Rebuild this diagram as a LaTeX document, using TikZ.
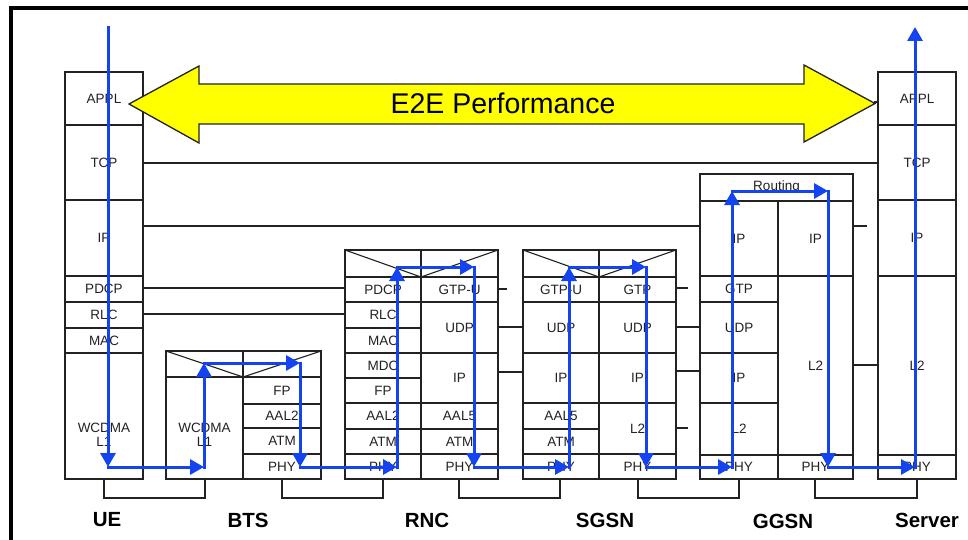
\documentclass[tikz,border=0pt]{standalone}
\usepackage{fontspec}
\setmainfont{Liberation Sans}
\usetikzlibrary{arrows.meta,calc}
\definecolor{flowblue}{HTML}{1444F0}
\definecolor{e2eyellow}{HTML}{FFFF00}
\definecolor{ink}{HTML}{222222}
\tikzset{
  cellbox/.style={draw=ink, line width=1.1pt},
  celltxt/.style={font=\fontsize{13.5}{14}\selectfont, text=ink, inner sep=0pt, align=center},
  peer/.style={draw=ink, line width=1.1pt},
  flow/.style={draw=flowblue, line width=3pt, line cap=rect, -{Triangle[length=14pt,width=15pt]}},
  nodelbl/.style={font=\fontsize{20.5}{22}\selectfont\bfseries, text=black, inner sep=0pt},
  bracket/.style={draw=ink, line width=2pt},
  frameline/.style={draw=black, line width=4pt},
  bigarrow/.style={fill=e2eyellow, draw=ink, line width=1.3pt, line join=miter},
}
\newcommand\lyr[6]{%
  \draw[cellbox] (#2,#3) rectangle (#4,#5);
  \node[celltxt] (#1) at ($(#2,#3)!.5!(#4,#5)$) {#6};
}
\newcommand\lyrbox[4]{\draw[cellbox] (#1,#2) rectangle (#3,#4);}
\begin{document}
\begin{tikzpicture}[x=1pt,y=-1pt]
\useasboundingbox (0,0) rectangle (968,540);
\fill[white] (0,0) rectangle (968,540);
% frame
\draw[frameline] (10.5,542) -- (10.5,8.5) -- (970,8.5);

% ---------- UE ----------
\lyr{ueappl}{65}{72}{143}{125}{APPL}
\lyr{uetcp}{65}{125}{143}{200}{TCP}
\lyr{ueip}{65}{200}{143}{276}{IP}
\lyr{uepdcp}{65}{276}{143}{302}{PDCP}
\lyr{uerlc}{65}{302}{143}{328}{RLC}
\lyr{uemac}{65}{328}{143}{353}{MAC}
\lyrbox{65}{353}{143}{479}
\node[celltxt] (uel1) at (104,435) {WCDMA\\L1};

% ---------- BTS ----------
\lyrbox{166}{351}{243}{377}
\lyrbox{243}{351}{321}{377}
\draw[cellbox] (166,351) -- (243,377) -- (321,351);
\lyrbox{166}{377}{243}{479}
\node[celltxt] (btsl1) at (204.5,435) {WCDMA\\L1};
\lyr{btsfp}{243}{377}{321}{404}{FP}
\lyr{btsaal}{243}{404}{321}{428}{AAL2}
\lyr{btsatm}{243}{428}{321}{454}{ATM}
\lyr{btsphy}{243}{454}{321}{479}{PHY}

% ---------- RNC ----------
\lyrbox{345}{250}{421}{277}
\lyrbox{421}{250}{498}{277}
\draw[cellbox] (345,250) -- (421,277) -- (498,250);
\lyr{rncpdcp}{345}{277}{421}{302}{PDCP}
\lyr{rncrlc}{345}{302}{421}{328}{RLC}
\lyr{rncmac}{345}{328}{421}{353}{MAC}
\lyr{rncmdc}{345}{353}{421}{378}{MDC}
\lyr{rncfp}{345}{378}{421}{403}{FP}
\lyr{rncaal}{345}{403}{421}{429}{AAL2}
\lyr{rncatm}{345}{429}{421}{454}{ATM}
\lyr{rncphy}{345}{454}{421}{479}{PHY}
\lyr{rncgtp}{421}{277}{498}{302}{GTP-U}
\lyr{rncudp}{421}{302}{498}{353}{UDP}
\lyr{rncip}{421}{353}{498}{403}{IP}
\lyr{rncaalv}{421}{403}{498}{429}{AAL5}
\lyr{rncatmr}{421}{429}{498}{454}{ATM}
\lyr{rncphyr}{421}{454}{498}{479}{PHY}

% ---------- SGSN ----------
\lyrbox{523}{250}{599}{277}
\lyrbox{599}{250}{676}{277}
\draw[cellbox] (523,250) -- (599,277) -- (676,250);
\lyr{sggtp}{523}{277}{599}{302}{GTP-U}
\lyr{sgudp}{523}{302}{599}{353}{UDP}
\lyr{sgip}{523}{353}{599}{403}{IP}
\lyr{sgaal}{523}{403}{599}{429}{AAL5}
\lyr{sgatm}{523}{429}{599}{454}{ATM}
\lyr{sgphy}{523}{454}{599}{479}{PHY}
\lyr{sggtpr}{599}{277}{676}{302}{GTP}
\lyr{sgudpr}{599}{302}{676}{353}{UDP}
\lyr{sgipr}{599}{353}{676}{403}{IP}
\lyr{sgltwo}{599}{403}{676}{454}{L2}
\lyr{sgphyr}{599}{454}{676}{479}{PHY}

% ---------- GGSN ----------
\lyr{ggroute}{700}{174}{853}{201}{Routing}
\lyr{ggip}{700}{201}{778}{276}{IP}
\lyr{gggtp}{700}{276}{778}{302}{GTP}
\lyr{ggudp}{700}{302}{778}{353}{UDP}
\lyr{ggipb}{700}{353}{778}{403}{IP}
\lyr{ggltwo}{700}{403}{778}{455}{L2}
\lyr{ggphy}{700}{455}{778}{479}{PHY}
\lyr{ggipr}{778}{201}{853}{276}{IP}
\lyr{ggltwor}{778}{276}{853}{455}{L2}
\lyr{ggphyr}{778}{455}{853}{479}{PHY}

% ---------- Server ----------
\lyr{svappl}{878}{72}{956}{125}{APPL}
\lyr{svtcp}{878}{125}{956}{200}{TCP}
\lyr{svip}{878}{200}{956}{276}{IP}
\lyr{svltwo}{878}{276}{956}{455}{L2}
\lyr{svphy}{878}{455}{956}{479}{PHY}

% ---------- peer lines ----------
\draw[peer] (143,163) -- (878,163);
\draw[peer] (143,226) -- (700,226);
\draw[peer] (143,288) -- (345,288);
\draw[peer] (143,314) -- (345,314);
\draw[peer] (498,289) -- (507,289);
\draw[peer] (498,327) -- (523,327);
\draw[peer] (497,372) -- (523,372);
\draw[peer] (676,288) -- (688,288);
\draw[peer] (676,327) -- (700,327);
\draw[peer] (676,371) -- (700,371);
\draw[peer] (676,428) -- (688,428);
\draw[peer] (853,226) -- (867,226);
\draw[peer] (853,365) -- (878,365);

% ---------- brackets ----------
\foreach \a/\b in {104/205, 282/383, 459/560, 638/739, 815/917}{
  \draw[bracket] (\a,479) -- (\a,498) -- (\b,498) -- (\b,479);
}

% ---------- labels ----------
\node[nodelbl] (lue) at (107,520) {UE};
\node[nodelbl] (lbts) at (248,520) {BTS};
\node[nodelbl] (lrnc) at (427,520) {RNC};
\node[nodelbl] (lsgsn) at (605,520) {SGSN};
\node[nodelbl] (lggsn) at (783,521) {GGSN};
\node[nodelbl] (lsrv) at (927,520) {Server};

% ---------- E2E arrow ----------
\draw[bigarrow] (129,104) -- (199,66) -- (199,84) -- (804,84) -- (804,65)
  -- (875,103.5) -- (804,142) -- (804,124) -- (199,124) -- (199,143) -- cycle;
\draw[peer, line width=1.6pt] (874,102) -- (878,102);
\node[font=\fontsize{28.5}{30}\selectfont, inner sep=0pt] (e2e) at (503,103) {E2E Performance};

% ---------- blue flow ----------
\coordinate (f0) at (108,26);
\coordinate (f1) at (108,467);
\coordinate (f2) at (204,467);
\coordinate (f3) at (204,363);
\coordinate (f4) at (300,363);
\coordinate (f5) at (300,467);
\coordinate (f6) at (397,467);
\coordinate (f7) at (397,267);
\coordinate (f8) at (474,267);
\coordinate (f9) at (474,467);
\coordinate (f10) at (569,467);
\coordinate (f11) at (569,267);
\coordinate (f12) at (646,267);
\coordinate (f13) at (646,467);
\coordinate (f14) at (732,467);
\coordinate (f15) at (732,191);
\coordinate (f16) at (828,191);
\coordinate (f17) at (828,467);
\coordinate (f18) at (915,467);
\coordinate (f19) at (915,27);
\draw[flow, line cap=butt] (f0) -- (f1);
\foreach \i [evaluate=\i as \j using int(\i+1)] in {1,...,18}{
  \draw[flow] (f\i) -- (f\j);
}
\end{tikzpicture}
\end{document}
